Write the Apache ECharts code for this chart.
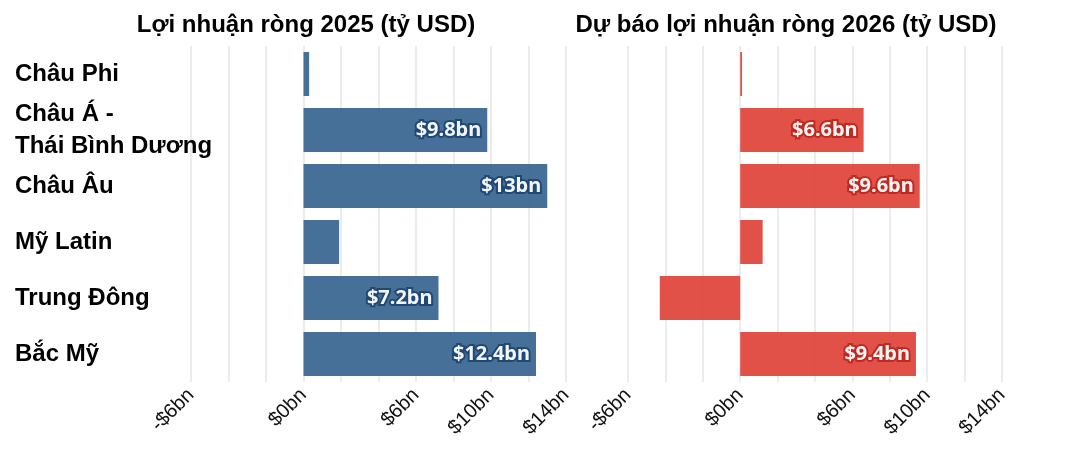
<!DOCTYPE html>
<html><head><meta charset="utf-8">
<script src="https://cdn.jsdelivr.net/npm/echarts@6/dist/echarts.min.js"></script>
<style>html,body{margin:0;padding:0;background:#fff}#c{width:1070px;height:464px}</style>
</head><body><div id="c"></div>
<script>
const categories = ['Châu Phi','Châu Á -\nThái Bình Dương','Châu Âu','Mỹ Latin','Trung Đông','Bắc Mỹ'];
const profit2025 = [0.3, 9.8, 13, 1.9, 7.2, 12.4];
const profit2026 = [0.1, 6.6, 9.6, 1.2, -4.3, 9.4];
const tickLabels = [-6, 0, 6, 10, 14];
const titles = ['Lợi nhuận ròng 2025 (tỷ USD)', 'Dự báo lợi nhuận ròng 2026 (tỷ USD)'];
const colors = ['#3d6893', '#e0483e'];
const strokes = ['#1d4775', '#c0281f'];

const chart = echarts.init(document.getElementById('c'));
function xAxis(i){
  return {gridIndex:i,type:'value',min:-6,max:14,interval:2,
    axisLine:{show:false},axisTick:{show:false},
    splitLine:{lineStyle:{color:'#e6e6e6',width:1.5}},
    axisLabel:{rotate:45,fontSize:20,color:'#111',fontFamily:'Liberation Sans',margin:10,
      formatter:v=>tickLabels.includes(v)?(v<0?'-$'+(-v):'$'+v)+'bn':''}};
}
function series(i,data){
  return {type:'bar',xAxisIndex:i,yAxisIndex:i,data:data,barWidth:44,
    itemStyle:{color:colors[i],opacity:0.95},
    label:{show:true,position:'insideRight',distance:6,fontFamily:'Noto Sans',fontWeight:'bold',fontSize:20,
      color:'#fff',textBorderColor:strokes[i],textBorderWidth:4,
      formatter:p=>Math.abs(p.value)>5?'$'+p.value+'bn':''}};
}
chart.setOption({
  animation:false,
  title:[
    {text:titles[0],left:301,top:8,textAlign:'center',textStyle:{fontSize:24,fontWeight:'bold',color:'#000',fontFamily:'Liberation Sans'}},
    {text:titles[1],left:781,top:8,textAlign:'center',textStyle:{fontSize:24,fontWeight:'bold',color:'#000',fontFamily:'Liberation Sans'}}
  ],
  grid:[{left:191,width:375,top:46,height:336},{left:628,width:374,top:46,height:336}],
  xAxis:[xAxis(0),xAxis(1)],
  yAxis:[
    {gridIndex:0,type:'category',data:categories,inverse:true,axisLine:{show:false},axisTick:{show:false},
      axisLabel:{fontSize:24,fontWeight:'bold',color:'#000',fontFamily:'Liberation Sans',align:'left',margin:176,lineHeight:32}},
    {gridIndex:1,type:'category',data:categories,inverse:true,axisLine:{show:false},axisTick:{show:false},axisLabel:{show:false}}
  ],
  series:[series(0,profit2025),series(1,profit2026)]
});
</script></body></html>
